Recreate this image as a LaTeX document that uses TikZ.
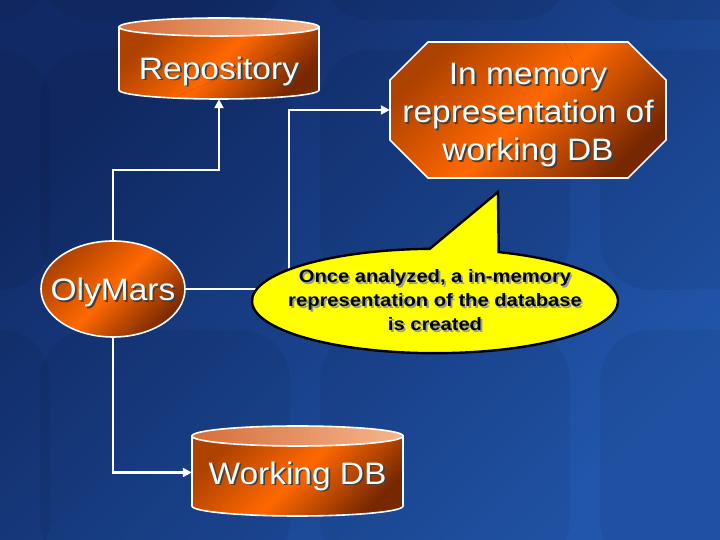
\documentclass[tikz,border=0pt]{standalone}
\usepackage{fontspec}
\setmainfont{Liberation Sans}
\newfontfamily\slidefont[FakeStretch=1.08]{Liberation Sans}
\newfontfamily\notefont[FakeStretch=1.12]{Liberation Sans}
\usetikzlibrary{arrows.meta,shapes.geometric,shapes.callouts}

\definecolor{bgdark}{RGB}{17,42,102}
\definecolor{bglight}{RGB}{33,86,172}
\definecolor{ordark}{RGB}{120,40,0}
\definecolor{ormid}{RGB}{255,104,0}
\definecolor{peach}{RGB}{246,182,140}
\definecolor{peachdark}{RGB}{214,110,58}
\definecolor{noteyellow}{RGB}{255,255,0}

\def\shdrop{5pt}
\newcommand\shtext[2][black!75]{\makebox[0pt]{\raisebox{-\shdrop}[\height][\depth]{%
  \makebox[0pt][l]{\hspace{1.8pt}\raisebox{-1.8pt}{\color{#1}\begin{tabular}{@{}c@{}}#2\end{tabular}}}%
  \begin{tabular}{@{}c@{}}#2\end{tabular}}}}

\tikzset{
  orangefill/.style={top color=ordark!60!ormid, bottom color=ordark, middle color=ormid, shading angle=45},
  topfill/.style={left color=peachdark, right color=peach},
  shapeline/.style={draw=white, line width=1.6pt},
  bigtext/.style={text=white, font=\slidefont\fontsize{31}{38}\selectfont},
  link/.style={draw=white, line width=2.2pt, -{Triangle[width=9pt,length=9pt]}},
}

\begin{document}
\begin{tikzpicture}[x=1pt,y=1pt]
  \useasboundingbox (0,0) rectangle (720,540);
  \shade[top color=bgdark, bottom color=bglight, shading angle=45] (0,0) rectangle (720,540);
  \foreach \bx in {-200,40,320,600}
    \foreach \by in {-30,250,520}
      \fill[black, opacity=.06, rounded corners=50pt] (\bx,\by) rectangle ++(250,240);

  \shade[orangefill, shapeline] (119,513) -- (119,450) arc[start angle=180, end angle=360, x radius=100, y radius=9] -- (319,513) -- cycle;
  \shade[topfill, shapeline] (219,513) ellipse[x radius=100, y radius=9];
  \draw[dotted, red!45!black] (170,441) -- (283,488);
  \node[bigtext, minimum width=200pt, minimum height=63pt] (repo) at (219,472.5) {\shtext{Repository}};

  \shade[orangefill, shapeline] (192,104) -- (192,34) arc[start angle=180, end angle=360, x radius=105.5, y radius=10] -- (403,104) -- cycle;
  \shade[topfill, shapeline] (297.5,104) ellipse[x radius=105.5, y radius=10];
  \node[bigtext, minimum width=211pt, minimum height=87pt] (wdb) at (297.5,67.5) {\shtext{Working DB}};

  \node[ellipse, orangefill, shapeline, bigtext, minimum width=144pt, minimum height=96pt, inner sep=0pt] (oly) at (113,251) {\shtext{OlyMars}};

  \shade[orangefill, shapeline] (428,498) -- (628,498) -- (666,460) -- (666,400) -- (628,362) -- (428,362) -- (390,400) -- (390,460) -- cycle;
  \draw[dotted, red!45!black] (565,497) -- (573,478);
  \node[bigtext, minimum width=276pt, minimum height=136pt] (mem) at (528,430) {\def\shdrop{6pt}\shtext{In memory\\representation of\\working DB}};

  \draw[link] (oly.north) -- ++(0,70) -| (repo.south);
  \draw[link] (oly.east) -- ++(103,0) |- (mem.west);
  \draw[link] (oly.south) |- (wdb.west);

  \node[ellipse callout, fill=noteyellow, draw=black, line width=2.4pt, minimum width=366pt, minimum height=104pt, inner sep=0pt,
    callout absolute pointer={(498,348)}, callout pointer arc=22,
    font=\notefont\bfseries\fontsize{18}{24}\selectfont] (note) at (435,239)
    {\def\shdrop{2pt}\shtext[black!40]{Once analyzed, a in-memory\\representation of the database\\is created}};
\end{tikzpicture}
\end{document}
